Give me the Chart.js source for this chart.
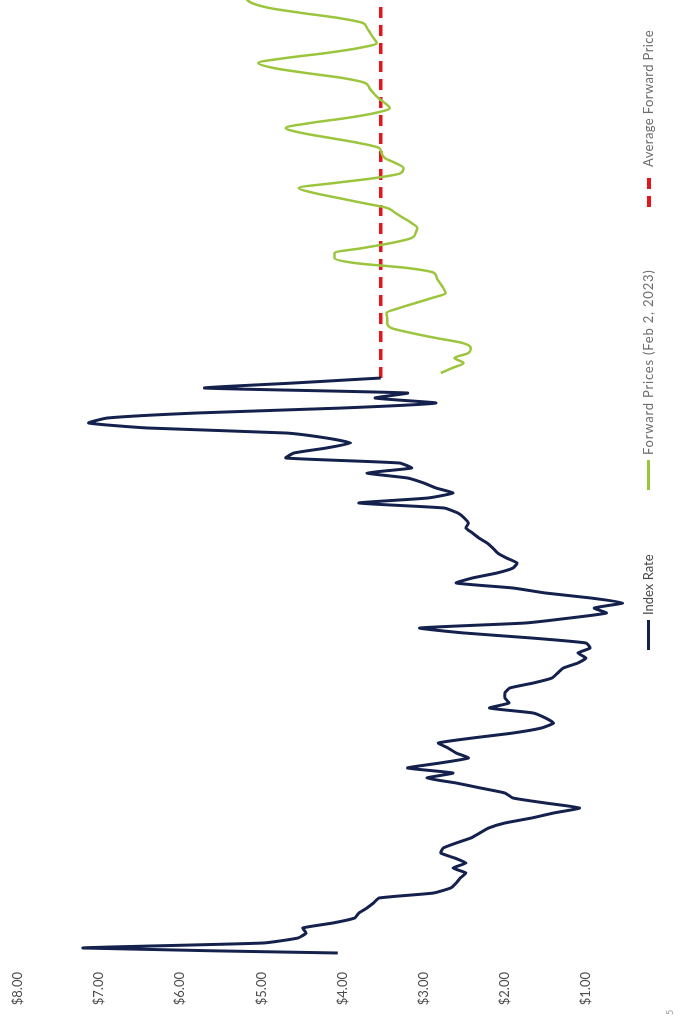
<!DOCTYPE html>
<html>
<head>
<meta charset="utf-8">
<script src="https://cdn.jsdelivr.net/npm/chart.js@4.4.1/dist/chart.umd.min.js"></script>
<style>
  html, body { margin: 0; padding: 0; background: #fff; width: 678px; height: 1019px; overflow: hidden; }
  #page { position: absolute; left: 0; top: 0; width: 1100px; height: 678px;
          transform-origin: 0 0; transform: translate(0, 1019px) rotate(-90deg); }
  #page canvas { position: absolute; left: 0; top: 0; }
  .leg { position: absolute; top: 640px; font: 13px Lato, "Open Sans", sans-serif; color: #6e6e6e; white-space: nowrap; line-height: 16px; }
  .mk { position: absolute; height: 3px; top: 647px; }
  .pg { position: absolute; left: 4px; top: 664px; font: 9px Lato, sans-serif; color: #9a9a9a; }
</style>
</head>
<body>
<div id="page">
  <canvas id="myChart" width="1100" height="678"></canvas>
  <div class="mk" style="left:369px;width:30px;background:#14214d;"></div>
  <div class="leg" style="left:404px;color:#4a4a4a;">Index Rate</div>
  <div class="mk" style="left:529px;width:30px;background:#9bc53d;"></div>
  <div class="leg" style="left:564px;letter-spacing:0.8px;">Forward Prices (Feb 2, 2023)</div>
  <div class="mk" style="left:812px;width:30px;height:4px;background:repeating-linear-gradient(90deg,#e8141b 0 11px,transparent 11px 18px);"></div>
  <div class="leg" style="left:852px;letter-spacing:0.4px;">Average Forward Price</div>
  <div class="pg">5</div>
</div>
<script>
// monthly values
const indexStart = 0;
const indexRate = [
  4.06, 7.2, 4.98, 4.55, 4.45, 4.49, 4.12, 3.85, 3.8, 3.7,
  3.62, 3.55, 2.88, 2.67, 2.6, 2.55, 2.48, 2.64, 2.48, 2.62,
  2.79, 2.76, 2.6, 2.42, 2.31, 2.2, 2.0, 1.67, 1.4, 1.08,
  1.5, 1.9, 2.0, 2.3, 2.6, 2.96, 2.64, 3.2, 2.8, 2.45,
  2.6, 2.7, 2.82, 2.4, 1.9, 1.55, 1.4, 1.5, 1.65, 2.19,
  1.95, 2.0, 2.0, 1.94, 1.65, 1.42, 1.35, 1.28, 1.1, 1.0,
  1.1, 0.95, 1.0, 1.67, 2.5, 3.05, 1.75, 1.2, 0.75, 0.9,
  0.55, 0.94, 1.5, 1.9, 2.6, 2.4, 2.1, 1.9, 1.85, 1.98,
  2.09, 2.15, 2.22, 2.32, 2.4, 2.48, 2.45, 2.5, 2.58, 2.75,
  3.8, 2.95, 2.64, 2.85, 3.0, 3.2, 3.7, 3.15, 3.3, 4.7,
  4.6, 4.2, 3.9, 4.2, 4.7, 6.4, 7.13, 6.9, 5.8, 4.0,
  2.85, 3.6, 3.2, 5.7, 4.6, 3.53
];

const forwardStart = 116;
const forwardPrices = [
  2.79, 2.65, 2.51, 2.62, 2.45, 2.42, 2.52, 2.85, 3.15, 3.4,
  3.45, 3.45, 3.46, 3.3, 3.1, 2.9, 2.73, 2.76, 2.8, 2.84,
  2.87, 3.2, 3.85, 4.1, 4.1, 3.75, 3.4, 3.15, 3.1, 3.08,
  3.15, 3.25, 3.35, 3.45, 3.75, 4.05, 4.35, 4.54, 4.1, 3.6,
  3.28, 3.25, 3.35, 3.48, 3.52, 3.55, 3.8, 4.15, 4.5, 4.7,
  4.4, 3.95, 3.6, 3.42, 3.48, 3.56, 3.62, 3.67, 3.72, 4.0,
  4.45, 4.85, 5.04, 4.7, 4.2, 3.8, 3.58, 3.62, 3.66, 3.7,
  3.75, 4.05, 4.5, 4.9, 5.12, 5.2
];

const avgForward = 3.53;

const indexPts = indexRate.map((v, i) => ({x: indexStart + i, y: v}));
const fwdPts = forwardPrices.map((v, i) => ({x: forwardStart + i, y: v}));
const lastIndex = indexStart + indexRate.length - 1;
const lastFwd = forwardStart + forwardPrices.length - 1;
const avgPts = [{x: lastIndex, y: avgForward}, {x: lastFwd, y: avgForward}];

const ctx = document.getElementById('myChart').getContext('2d');

const myChart = new Chart(ctx, {
  type: 'line',
  data: {
    datasets: [{
      label: 'Index Rate',
      data: indexPts,
      borderColor: '#14214d',
      borderWidth: 3,
      tension: 0.15,
      pointRadius: 0
    }, {
      label: 'Forward Prices (Feb 2, 2023)',
      data: fwdPts,
      borderColor: '#9bc53d',
      borderWidth: 2.5,
      cubicInterpolationMode: 'monotone',
      pointRadius: 0
    }, {
      label: 'Average Forward Price',
      data: avgPts,
      borderColor: '#e8141b',
      borderWidth: 3.5,
      borderDash: [11, 7],
      pointRadius: 0
    }]
  },
  options: {
    responsive: false,
    devicePixelRatio: 1,
    animation: false,
    layout: { padding: { top: 18, bottom: 1, left: 0, right: 0 } },
    plugins: { legend: { display: false }, tooltip: { enabled: false } },
    scales: {
      x: {
        type: 'linear',
        display: false,
        min: -3.2,
        max: 206.8
      },
      y: {
        min: 0,
        max: 8,
        grid: { display: false, drawTicks: false },
        border: { display: false },
        afterFit: (scale) => { scale.width = 50; },
        ticks: {
          stepSize: 1,
          padding: 3,
          color: '#4d4d4d',
          font: { family: 'Lato', size: 13 },
          callback: (v) => v === 0 ? '' : '$' + v.toFixed(2)
        }
      }
    }
  }
});
</script>
</body>
</html>
